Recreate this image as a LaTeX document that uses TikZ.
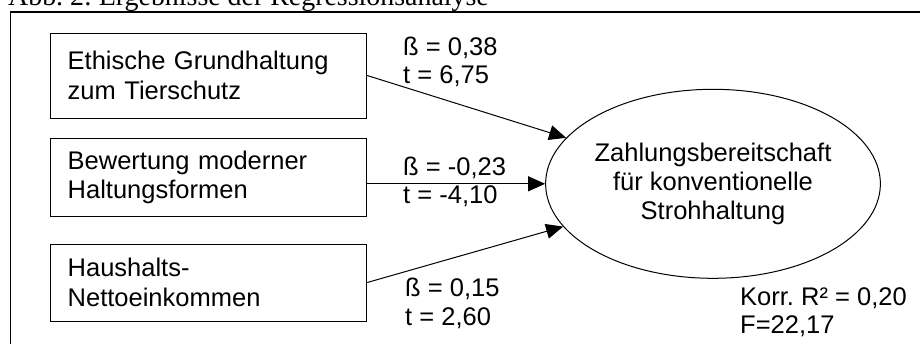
\documentclass[tikz,border=0pt]{standalone}
\usepackage{fontspec}
\setmainfont{Liberation Sans}
\newfontfamily\capfont{Liberation Serif}
\usetikzlibrary{shapes.geometric,arrows.meta}
\frenchspacing
\begin{document}
\begin{tikzpicture}[x=1pt,y=-1pt,
  box/.style={draw,line width=1pt,minimum width=316pt,inner xsep=17pt,inner ysep=0pt,text width=282pt,align=left,font=\fontsize{25.5}{29.5}\selectfont},
  lbl/.style={anchor=base west,inner sep=0pt,font=\fontsize{25.5}{29}\selectfont},
  oval/.style={draw,line width=1pt,ellipse,inner sep=0pt,minimum width=316pt,minimum height=189pt,align=center,font=\fontsize{25.5}{29.2}\selectfont},
  arr/.style={line width=1pt,-{Triangle[length=17pt,width=15pt]}},
  frame/.style={line width=1.4pt}]
\useasboundingbox (0,0) rectangle (920,343);
\clip (0,0) rectangle (920,343);
\draw[frame] (10.5,360) -- (10.5,12) -- (940,12);
\node[anchor=base west,inner sep=0pt,font=\capfont\fontsize{27.9}{30}\selectfont] (cap) at (8,5.7) {Abb. 2: Ergebnisse der Regressionsanalyse};
\node[box,minimum height=85pt] (b1) at (208.7,75.5) {Ethische Grundhaltung\\zum Tierschutz};
\node[box,minimum height=78pt] (b2) at (208.7,177.5) {Bewertung moderner\\Haltungsformen};
\node[box,minimum height=77pt] (b3) at (208.7,282.5) {Haushalts-\\Nettoeinkommen};
\node[oval] (z) at (713,183.8) {Zahlungsbereitschaft\\für konventionelle\\Strohhaltung};
\draw[arr] (b1.east) -- (z);
\draw[arr] (b2.east |- z.west) -- (z.west);
\draw[arr] (b3.east) -- (z);
\node[lbl] (l1a) at (403,55) {ß = 0,38};
\node[lbl] (l1b) at (403,83.3) {t = 6,75};
\node[lbl] (l2a) at (403,175) {ß = -0,23};
\node[lbl] (l2b) at (403,203.3) {t = -4,10};
\node[lbl] (l3a) at (405,296.7) {ß = 0,15};
\node[lbl] (l3b) at (405,325) {t = 2,60};
\node[lbl] (r2) at (740,305) {Korr.\ R² = 0,20};
\node[lbl] (fv) at (740,333.3) {F=22,17};
\end{tikzpicture}
\end{document}
